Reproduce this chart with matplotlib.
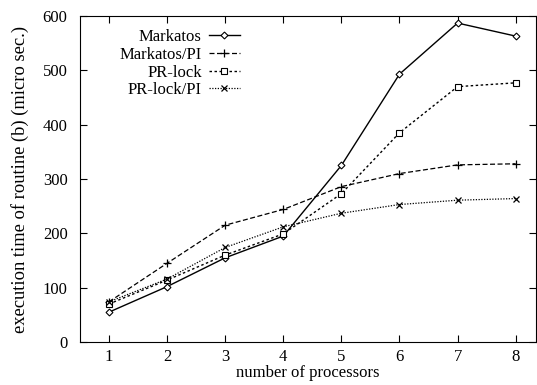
import matplotlib.pyplot as plt

plt.rcParams['font.family'] = ['Liberation Serif', 'DejaVu Serif']

procs = [1, 2, 3, 4, 5, 6, 7, 8]
markatos = [55, 102, 155, 195, 325, 493, 587, 563]
markatos_pi = [74, 145, 215, 244, 286, 310, 326, 328]
prlock = [70, 114, 160, 199, 273, 385, 470, 477]
prlock_pi = [74, 116, 174, 212, 237, 253, 261, 264]

fig = plt.figure(figsize=(5.37, 3.85), dpi=100)
ax = fig.add_axes([80 / 537, 1 - 342 / 385, 456 / 537, 326 / 385])

ax.plot(procs, markatos, '-', color='black', lw=1.0, marker='D', ms=3.5,
        mfc='white', mec='black', mew=0.8, label='Markatos')
ax.plot(procs, markatos_pi, '--', color='black', lw=0.9, marker='+', ms=6,
        mew=0.9, dashes=(4, 2), label='Markatos/PI')
ax.plot(procs, prlock, ':', color='black', lw=1.0, marker='s', ms=5,
        mfc='white', mec='black', mew=0.8, dashes=(1.8, 1.8), label='PR-lock')
ax.plot(procs, prlock_pi, ':', color='black', lw=0.9, marker='x', ms=5,
        mew=0.9, dashes=(1, 1.2), label='PR-lock/PI')

ax.set_xlim(0.5, 8.35)
ax.set_ylim(0, 600)
ax.set_xticks(procs)
ax.set_yticks(range(0, 601, 100))
ax.tick_params(direction='in', top=True, right=True, labelsize=12, length=5)
ax.tick_params(axis='x', pad=5)
ax.tick_params(axis='y', pad=9)
ax.set_xlabel('number of processors', fontsize=12, labelpad=0)
ax.set_ylabel('execution time of routine (b) (micro sec.)', fontsize=13.3,
              labelpad=10)

ax.legend(loc='upper left', bbox_to_anchor=(0.065, 0.99), frameon=False,
          markerfirst=False, fontsize=12, handlelength=1.9, labelspacing=0.1,
          borderaxespad=0.2, handletextpad=0.4)
for t in ax.get_legend().get_texts():
    t.set_ha('right')
ax.get_legend()._legend_box.align = 'right'

fig.savefig('out.png', dpi=100)
